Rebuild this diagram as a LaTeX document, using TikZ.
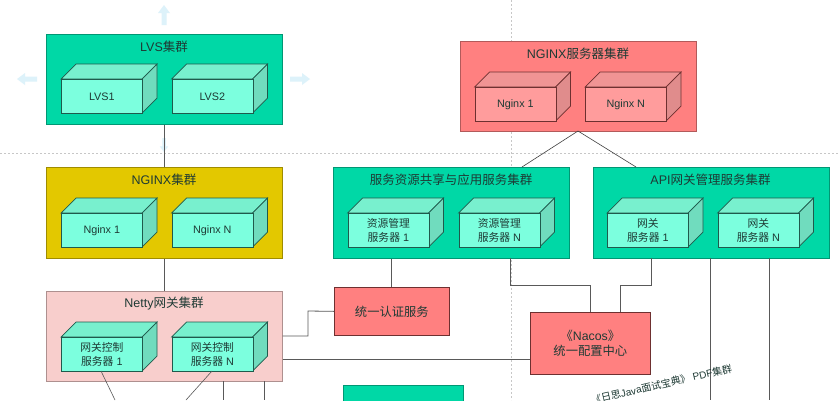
\documentclass[tikz,border=0pt]{standalone}
\usepackage{fontspec}
\setmainfont{Liberation Sans}
\newfontfamily\cjk{Noto Sans CJK SC}
\newcommand{\zh}[1]{{\cjk #1}}
\usetikzlibrary{arrows.meta}
\definecolor{teal1}{HTML}{00D8A6}
\definecolor{gold1}{HTML}{E3C800}
\definecolor{pink1}{HTML}{F8CECC}
\definecolor{red1}{HTML}{FF8080}
\definecolor{cubef}{HTML}{7CFFDE}
\definecolor{cubet}{HTML}{78F0CE}
\definecolor{cubes}{HTML}{70DCBE}
\definecolor{rcubef}{HTML}{FF9C9C}
\definecolor{rcubet}{HTML}{F09494}
\definecolor{rcubes}{HTML}{E08C8C}
\definecolor{cubeline}{HTML}{1F5A4C}
\definecolor{rline}{HTML}{6E3030}
\definecolor{hintc}{HTML}{DDF2FA}
\definecolor{txt}{HTML}{1E3A34}
\tikzset{
 x=1pt,y=-1pt,
 every node/.style={font=\fontsize{10.8}{13.5}\selectfont,text=txt,align=center,inner sep=0pt},
 clusterbox/.style={draw=#1!70!black,fill=#1,line width=.7pt},
 link/.style={draw=black!65,line width=.8pt},
 guide/.style={draw=black!22,dash pattern=on 2pt off 2pt,line width=.5pt},
 hint/.style={draw=none,fill=hintc},
}
\newcommand{\mycube}[4]{%
 \path[fill=cubet,draw=cubeline,line width=.7pt] (#1,#2)--++(15,-15)--++(81,0)--++(-15,15)--cycle;
 \path[fill=cubes,draw=cubeline,line width=.7pt] (#1+81,#2)--++(15,-15)--++(0,34)--++(-15,15)--cycle;
 \node[draw=cubeline,fill=cubef,line width=.7pt,minimum width=81pt,minimum height=34pt,anchor=north west] (#3) at (#1,#2) {#4};
}
\newcommand{\myredcube}[4]{%
 \path[fill=rcubet,draw=rline,line width=.7pt] (#1,#2)--++(15,-15)--++(81,0)--++(-15,15)--cycle;
 \path[fill=rcubes,draw=rline,line width=.7pt] (#1+81,#2)--++(15,-15)--++(0,34)--++(-15,15)--cycle;
 \node[draw=rline,fill=rcubef,line width=.7pt,minimum width=81pt,minimum height=34pt,anchor=north west] (#3) at (#1,#2) {#4};
}
\newcommand{\mycluster}[7]{%
 \node[clusterbox=#6,minimum width=#4pt,minimum height=#5pt,anchor=north west] (#1) at (#2,#3) {};
 \node (#1t) at (#2+#4/2,#3+13) {\fontsize{12.5}{15}\selectfont #7};
}
\begin{document}
\begin{tikzpicture}
\useasboundingbox (0,0) rectangle (838,400);
\fill[white] (0,0) rectangle (838,400);
\coordinate (gl) at (0,153); \coordinate (gr) at (838,153);
\coordinate (vt) at (511,0); \coordinate (vb) at (511,400);
\draw[guide] (gl)--(gr);
\draw[guide] (vt)--(vb);
\foreach \a/\px/\py/\s in {90/164/15/1,180/27/79/1,0/300/79/1,-90/164/145/.7}{
 \fill[hint,shift={(\px,\py)},rotate=\a,scale=\s] (-10,-2.5)--(2,-2.5)--(2,-6)--(10,0)--(2,6)--(2,2.5)--(-10,2.5)--cycle;
}
\mycluster{lvs}{46}{34}{236}{90}{teal1}{LVS\zh{集群}}
\mycluster{ngx}{46}{167}{236}{91}{gold1}{NGINX\zh{集群}}
\mycluster{net}{46}{291}{236}{90}{pink1}{Netty\zh{网关集群}}
\mycluster{svc}{333}{167}{236}{91}{teal1}{\zh{服务资源共享与应用服务集群}}
\mycluster{api}{592.5}{167}{236}{91}{teal1}{API\zh{网关管理服务集群}}
\mycluster{srv}{460}{41}{236}{90}{red1}{NGINX\zh{服务器集群}}
\mycube{61}{79}{l1}{LVS1}
\mycube{171.5}{79}{l2}{LVS2}
\mycube{61}{213}{n1}{Nginx 1}
\mycube{171.5}{213}{n2}{Nginx N}
\mycube{61}{337}{g1}{\zh{网关控制}\\\zh{服务器} 1}
\mycube{171.5}{337}{g2}{\zh{网关控制}\\\zh{服务器} N}
\mycube{347.5}{213}{s1}{\zh{资源管理}\\\zh{服务器} 1}
\mycube{458.5}{213}{s2}{\zh{资源管理}\\\zh{服务器} N}
\mycube{607}{213}{a1}{\zh{网关}\\\zh{服务器} 1}
\mycube{717.5}{213}{a2}{\zh{网关}\\\zh{服务器} N}
\myredcube{474.5}{87}{r1}{Nginx 1}
\myredcube{585}{87}{r2}{Nginx N}
\node[draw=rline,fill=red1,line width=.7pt,minimum width=115pt,minimum height=48pt,anchor=north west,font=\fontsize{12.3}{15}\selectfont] (auth) at (334,287) {\zh{统一认证服务}};
\node[draw=rline,fill=red1,line width=.7pt,minimum width=120pt,minimum height=62pt,anchor=north west,font=\fontsize{12.3}{15.5}\selectfont] (nacos) at (530,312) {\zh{《}Nacos\zh{》}\\\zh{统一配置中心}};
\node[clusterbox=teal1,minimum width=120pt,minimum height=30pt,anchor=north west] (pdf) at (343,385) {};
\draw[link] (lvs.south)--(ngx.north);
\draw[link] (ngx.south)--(net.north);
\draw[link] (svc.south -| auth)--(auth.north);
\draw[link] (net.east |- 0,336)--(308,336)--(308,311)--(auth.west);
\draw[link] (net.east |- 0,359)--(nacos.west |- 0,359);
\draw[link] (510,258)--(510,285)--(590,285)--(590,312);
\draw[link] (651.5,258)--(651.5,285)--(620,285)--(620,312);
\draw[link] (710,258)--(710,400);
\draw[link] (769.5,258)--(769.5,343)--(769,343)--(769,400);
\draw[black!75,line width=.6pt] (578,131)--(522,167);
\draw[black!75,line width=.6pt] (578,131)--(636,167);
\draw[link,line width=.6pt] (101,371)--(115,400);
\draw[link,line width=.6pt] (212,371)--(186,400);
\draw[link] (223,381)--(223,400);
\draw[link] (264,381)--(264,400);
\node[rotate=13,anchor=east,font=\fontsize{10}{12}\selectfont] (cap) at (732,368) {\zh{《日思}Java\zh{面试宝典》} PDF\zh{集群}};
\end{tikzpicture}
\end{document}
